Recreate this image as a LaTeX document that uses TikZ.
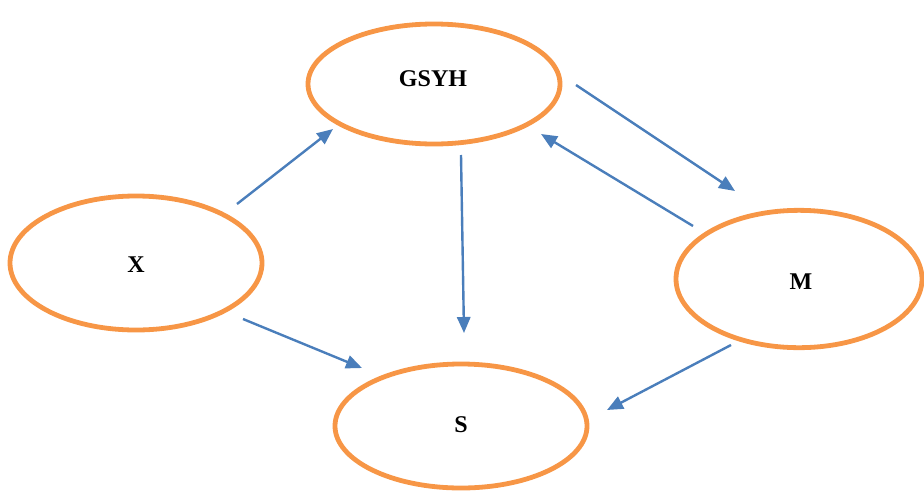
\documentclass[tikz,border=0pt]{standalone}
\usepackage{fontspec}
\setmainfont{Liberation Serif}
\usetikzlibrary{shapes.geometric,arrows.meta}
\definecolor{ellorange}{HTML}{F79646}
\definecolor{arrblue}{HTML}{4A7EBB}
\tikzset{
  ell/.style={ellipse, draw=ellorange, line width=3.6pt, inner sep=0pt},
  lbl/.style={font=\fontsize{18}{21}\selectfont\bfseries, inner sep=0pt},
  link/.style={draw=arrblue, line width=1.8pt, -{Triangle[length=12pt,width=10pt]}}
}
\begin{document}
\begin{tikzpicture}[x=0.75pt,y=-0.75pt]
\useasboundingbox (0,0) rectangle (924,493);
\node[ell, minimum width=189pt, minimum height=90pt] (g) at (434,84) {};
\node[ell, minimum width=189pt, minimum height=100.5pt] (x) at (136,263) {};
\node[ell, minimum width=184.5pt, minimum height=103pt] (m) at (799,279) {};
\node[ell, minimum width=189pt, minimum height=93pt] (s) at (461,426) {};
\node[lbl] (gt) at (433,79) {GSYH};
\node[lbl] (xt) at (136,265) {X};
\node[lbl] (mt) at (801,282) {M};
\node[lbl] (st) at (461,425) {S};
\coordinate (xg1) at (237,204); \coordinate (xg2) at (333,129);
\coordinate (xs1) at (243,319); \coordinate (xs2) at (362,368);
\coordinate (gs1) at (461,155); \coordinate (gs2) at (464,333);
\coordinate (gm1) at (576,85);  \coordinate (gm2) at (735,191);
\coordinate (mg1) at (693,226); \coordinate (mg2) at (541,134);
\coordinate (ms1) at (731,345); \coordinate (ms2) at (607,410);
\draw[link] (xg1) -- (xg2);
\draw[link] (xs1) -- (xs2);
\draw[link] (gs1) -- (gs2);
\draw[link] (gm1) -- (gm2);
\draw[link] (mg1) -- (mg2);
\draw[link] (ms1) -- (ms2);
\end{tikzpicture}
\end{document}
